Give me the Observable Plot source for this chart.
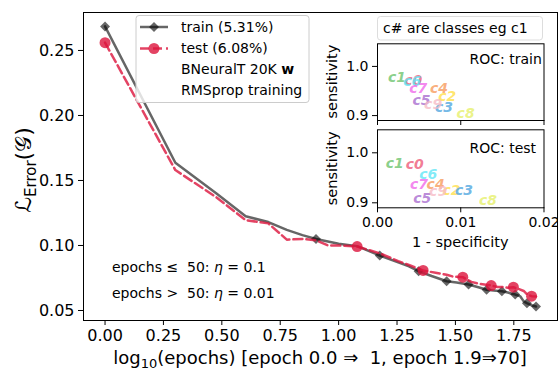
<!DOCTYPE html>
<html>
<head>
<meta charset="utf-8">
<script src="https://cdn.jsdelivr.net/npm/d3@7"></script>
<script src="https://cdn.jsdelivr.net/npm/@observablehq/plot@0.6"></script>
<style>
  body { margin: 0; background: #fff; }
  #chart { position: relative; width: 558px; height: 374px; font-family: "DejaVu Sans", sans-serif; }
  #chart > svg { position: absolute; }
</style>
</head>
<body>
<div id="chart"></div>
<script>
// Training curve: error per epoch (x axis is log10 of the epoch number)
const trainEpochs = [1, 2, 3, 4, 5, 6, 7, 8, 9, 10, 12, 15, 18, 20, 22, 25, 29, 32, 36, 40, 43, 46, 50, 53, 57, 60, 62, 64, 67, 70];
const trainError  = [0.2685, 0.1636, 0.140, 0.1225, 0.118, 0.112, 0.108, 0.105, 0.103, 0.1014, 0.0995, 0.0923, 0.087, 0.084, 0.0802, 0.0765, 0.0725, 0.0715, 0.070, 0.0677, 0.066, 0.0654, 0.0648, 0.0638, 0.0623, 0.0608, 0.057, 0.0556, 0.054, 0.0531];
const testEpochs  = [1, 2, 3, 4, 5, 6, 7, 8, 9, 10, 12, 15, 18, 20, 23, 26, 29, 31, 34, 37, 40, 42, 45, 48, 51, 53, 56, 59, 62, 64, 67, 70];
const testError   = [0.256, 0.158, 0.137, 0.1195, 0.117, 0.1045, 0.105, 0.104, 0.100, 0.100, 0.0992, 0.094, 0.088, 0.085, 0.0808, 0.079, 0.0775, 0.076, 0.0756, 0.072, 0.0705, 0.070, 0.0692, 0.068, 0.068, 0.0675, 0.0679, 0.0665, 0.065, 0.0625, 0.061, 0.0608];
const trainMarkerEpochs = [1, 8, 15, 22, 29, 36, 43, 50, 57, 64, 70];
const testMarkerEpochs  = [1, 12, 23, 34, 45, 56, 67];

const xTicks = [0, 0.25, 0.5, 0.75, 1.0, 1.25, 1.5, 1.75];
const yTicks = [0.05, 0.10, 0.15, 0.20, 0.25];

// Per-class ROC points (1 - specificity, sensitivity)
const classes     = ["c0", "c1", "c2", "c3", "c4", "c5", "c6", "c7", "c8", "c9"];
const classColors = ["#ee5a78", "#6cc46c", "#ffe04a", "#4fa6e0", "#f79a5c", "#a96ccf", "#5fe6f6", "#f068ea", "#e6f06a", "#f7bcc6"];
const rocTrainFpr = [0.0032, 0.00127, 0.0073, 0.0069, 0.0063, 0.0042, 0.0031, 0.0038, 0.0095, 0.0056];
const rocTrainTpr = [0.961, 0.967, 0.929, 0.907, 0.945, 0.921, 0.959, 0.945, 0.895, 0.913];
const rocTestFpr  = [0.0034, 0.0010, 0.0078, 0.0093, 0.0059, 0.0043, 0.0050, 0.0039, 0.0122, 0.0062];
const rocTestTpr  = [0.966, 0.968, 0.914, 0.915, 0.927, 0.899, 0.946, 0.927, 0.895, 0.912];
const rocXTicks = [0, 0.01, 0.02];
const rocYTicks = [0.9, 1.0];

const trainRows = trainEpochs.map((e, i) => ({epoch: e, lx: Math.log10(e), err: trainError[i]}));
const testRows  = testEpochs.map((e, i) => ({epoch: e, lx: Math.log10(e), err: testError[i]}));

const trainColor = "#000", trainAlpha = 0.6;
const testColor = "crimson", testAlpha = 0.8;

const chart = document.getElementById("chart");

const main = Plot.plot({
  width: 558, height: 374,
  marginLeft: 83, marginRight: 1, marginTop: 12, marginBottom: 54,
  style: {fontFamily: "DejaVu Sans", fontSize: "16px", background: "transparent", color: "#000", overflow: "visible"},
  x: {domain: [-0.0922, 1.937]},
  y: {domain: [0.0423, 0.2792]},
  marks: [
    Plot.axisX({ticks: xTicks, tickFormat: d3.format(".2f"), tickSize: 5, tickPadding: 4, fontSize: 16, label: null}),
    Plot.axisY({ticks: yTicks, tickFormat: d3.format(".2f"), tickSize: 5, tickPadding: 4, fontSize: 16, label: null}),
    Plot.line(trainRows, {x: "lx", y: "err", stroke: trainColor, strokeOpacity: trainAlpha, strokeWidth: 2.5}),
    Plot.dot(trainRows.filter(d => trainMarkerEpochs.includes(d.epoch)),
      {x: "lx", y: "err", symbol: "diamond2", r: 4.5, fill: trainColor, fillOpacity: trainAlpha, stroke: "none"}),
    Plot.line(testRows, {x: "lx", y: "err", stroke: testColor, strokeOpacity: testAlpha, strokeWidth: 2.5, strokeDasharray: "9,4"}),
    Plot.dot(testRows.filter(d => testMarkerEpochs.includes(d.epoch)),
      {x: "lx", y: "err", r: 5.5, fill: testColor, fillOpacity: testAlpha, stroke: "none"}),
    Plot.frame({stroke: "#000", strokeWidth: 1})
  ]
});
main.style.left = "0px";
main.style.top = "0px";
chart.append(main);

const svg = d3.select(main);

// Axis titles
const yLab = svg.append("text")
  .attr("transform", "translate(31,170) rotate(-90)")
  .attr("text-anchor", "middle")
  .attr("font-size", 22);
yLab.append("tspan").text("ℒ");
yLab.append("tspan").attr("font-size", 15).attr("dy", 5).text("Error");
yLab.append("tspan").attr("dy", -5).text("(𝒢)");

const xLab = svg.append("text")
  .attr("x", 320).attr("y", 364)
  .attr("text-anchor", "middle")
  .attr("font-size", 18)
  .style("white-space", "pre");
xLab.append("tspan").text("log");
xLab.append("tspan").attr("font-size", 13).attr("dy", 4).text("10");
xLab.append("tspan").attr("dy", -4).text("(epochs) [epoch 0.0 ⇒  1, epoch 1.9⇒70]");

// Learning-rate notes
const notes = [["≤", "0.1"], [">", "0.01"]];
notes.forEach(([op, eta], i) => {
  const t = svg.append("text")
    .attr("x", 112).attr("y", 272 + i * 25.5)
    .attr("text-anchor", "start")
    .attr("font-size", 14)
    .style("white-space", "pre");
  t.append("tspan").text(`epochs ${op}  50: `);
  t.append("tspan").attr("font-style", "italic").text("η");
  t.append("tspan").text(" = " + eta);
});

// Legend
const leg = svg.append("g").attr("text-anchor", "start");
leg.append("rect")
  .attr("x", 136).attr("y", 15.5).attr("width", 173).attr("height", 87).attr("rx", 3)
  .attr("fill", "#fff").attr("fill-opacity", 0.8).attr("stroke", "#cccccc");
const legendRows = [
  {label: "train (5.31%)", y: 27, color: trainColor, alpha: trainAlpha, dash: null, sym: d3.symbolDiamond2, r: 4.5},
  {label: "test (6.08%)", y: 48.5, color: testColor, alpha: testAlpha, dash: "9,4", sym: d3.symbolCircle, r: 5.5}
];
legendRows.forEach(row => {
  leg.append("line")
    .attr("x1", 140).attr("x2", 168).attr("y1", row.y).attr("y2", row.y)
    .attr("stroke", row.color).attr("stroke-opacity", row.alpha).attr("stroke-width", 2.5)
    .attr("stroke-dasharray", row.dash);
  leg.append("path")
    .attr("d", d3.symbol(row.sym, Math.PI * row.r * row.r)())
    .attr("transform", `translate(154,${row.y})`)
    .attr("fill", row.color).attr("fill-opacity", row.alpha);
  leg.append("text").attr("x", 181).attr("y", row.y).attr("dy", "0.35em")
    .attr("font-size", 14).text(row.label);
});
const l3 = leg.append("text").attr("x", 181).attr("y", 69).attr("dy", "0.35em").attr("font-size", 14);
l3.append("tspan").text("BNeuralT 20K ");
l3.append("tspan").attr("font-weight", "bold").text("w");
leg.append("text").attr("x", 181).attr("y", 90).attr("dy", "0.35em").attr("font-size", 14).text("RMSprop training");

// Class-key box above the ROC insets
svg.append("rect")
  .attr("x", 377.5).attr("y", 16.5).attr("width", 165).attr("height", 23.5).attr("rx", 3)
  .attr("fill", "#fff").attr("fill-opacity", 0.8).attr("stroke", "#dddddd");
svg.append("text").attr("x", 383).attr("y", 28.5).attr("dy", "0.35em")
  .attr("text-anchor", "start")
  .attr("font-size", 14).text("c# are classes eg c1");

// ROC inset panels
function rocInset({fpr, tpr, title, top, marginTop, frameH, marginBottom, showX, titleDy}) {
  const rows = classes.map((c, i) => ({cls: c, color: classColors[i], fpr: fpr[i], tpr: tpr[i]}));
  const p = Plot.plot({
    width: 238, height: marginTop + frameH + marginBottom,
    marginLeft: 57, marginRight: 14.5, marginTop, marginBottom,
    style: {fontFamily: "DejaVu Sans", fontSize: "14px", background: "transparent", color: "#000", overflow: "visible"},
    x: {domain: [0, 0.02]},
    y: {domain: [0.89, 1.046]},
    marks: [
      Plot.frame({fill: "#fff"}),
      Plot.axisX({ticks: rocXTicks, tickFormat: showX ? d3.format(".2f") : () => "", tickSize: 5, tickPadding: 4, fontSize: 14, label: null}),
      Plot.axisY({ticks: rocYTicks, tickFormat: d3.format(".1f"), tickSize: 5, tickPadding: 4, fontSize: 14, label: null}),
      Plot.text(rows, {x: "fpr", y: "tpr", text: "cls", fill: "color", fillOpacity: 0.8,
        fontWeight: "bold", fontStyle: "italic", fontSize: 14, textAnchor: "start", lineAnchor: "middle", dy: -5}),
      Plot.text([title], {frameAnchor: "top-left", dx: 92, dy: titleDy, textAnchor: "start", lineAnchor: "middle", fontSize: 14}),
      Plot.frame({stroke: "#000", strokeWidth: 1})
    ]
  });
  p.style.left = "320px";
  p.style.top = top + "px";
  chart.append(p);
  const s = d3.select(p);
  s.append("text")
    .attr("transform", `translate(12,${marginTop + frameH / 2}) rotate(-90)`)
    .attr("text-anchor", "middle").attr("dy", "0.35em")
    .attr("font-size", 14.5).text("sensitivity");
  if (showX) {
    s.append("text")
      .attr("x", 57 + (238 - 57 - 14.5) / 2).attr("y", marginTop + frameH + 34.5).attr("dy", "0.35em")
      .attr("text-anchor", "middle").attr("font-size", 14.5).text("1 - specificity");
  }
}
rocInset({fpr: rocTrainFpr, tpr: rocTrainTpr, title: "ROC: train", top: 38, marginTop: 5.3, frameH: 76.7, marginBottom: 6, showX: false, titleDy: 15.7});
rocInset({fpr: rocTestFpr, tpr: rocTestTpr, title: "ROC: test", top: 125, marginTop: 4.3, frameH: 78, marginBottom: 45, showX: true, titleDy: 19});
</script>
</body>
</html>
